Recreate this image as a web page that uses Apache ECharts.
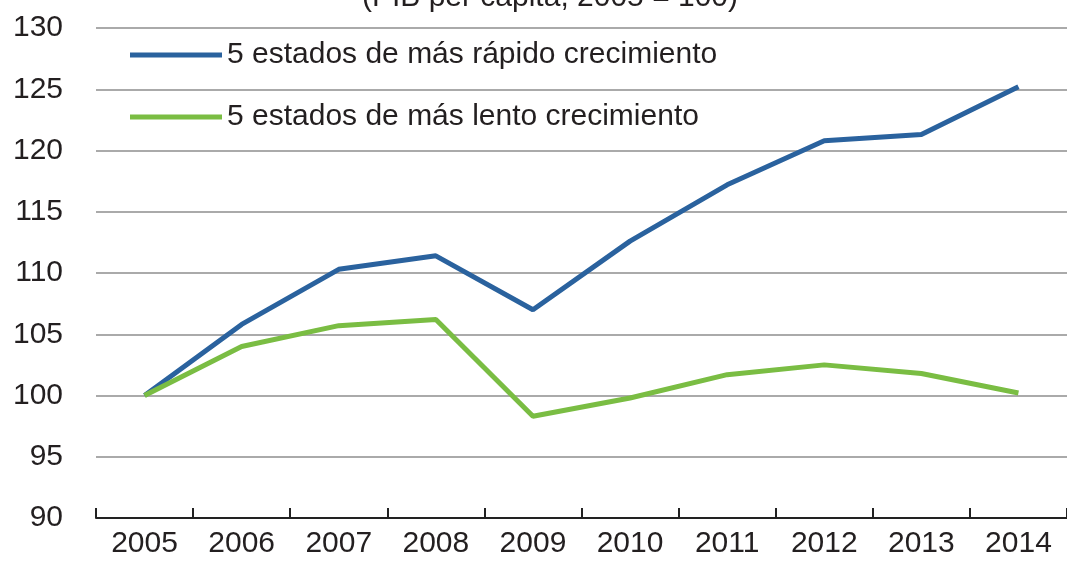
<!DOCTYPE html>
<html>
<head>
<meta charset="utf-8">
<script src="https://cdn.jsdelivr.net/npm/echarts@6/dist/echarts.min.js"></script>
<style>
html, body { margin: 0; padding: 0; background: #fff; }
#chart { width: 1067px; height: 563px; }
</style>
</head>
<body>
<div id="chart"></div>
<script>
// datos
var years = ["2005", "2006", "2007", "2008", "2009", "2010", "2011", "2012", "2013", "2014"];
var rapido = [100, 105.8, 110.3, 111.4, 107.0, 112.6, 117.2, 120.8, 121.3, 125.2];
var lento = [100, 104.0, 105.7, 106.2, 98.3, 99.8, 101.7, 102.5, 101.8, 100.2];
var nombreRapido = "5 estados de más rápido crecimiento";
var nombreLento = "5 estados de más lento crecimiento";
var titulo = "(PIB per cápita, 2005 = 100)";

var fuente = "'Liberation Sans Narrow', 'Liberation Sans', Arial, sans-serif";
var texto = "#231f20";

var myChart = echarts.init(document.getElementById('chart'));
var option = {
	animation: false,
	textStyle: { fontFamily: fuente },
	title: {
		text: titulo,
		left: 550,
		top: -17,
		padding: 0,
		textAlign: 'center',
		textStyle: { fontFamily: fuente, fontSize: 30, fontWeight: 'normal', color: texto }
	},
	legend: {
		orient: 'vertical',
		left: 130,
		top: 40,
		padding: 0,
		itemWidth: 92,
		itemHeight: 5,
		itemGap: 32,
		icon: 'rect',
		textStyle: { fontFamily: fuente, fontSize: 30, color: texto, lineHeight: 30 },
		data: [nombreRapido, nombreLento]
	},
	grid: { left: 96, top: 28, width: 978, height: 490 },
	xAxis: {
		type: 'category',
		data: years,
		boundaryGap: true,
		axisLine: { lineStyle: { color: '#222', width: 2 } },
		axisTick: { show: true, interval: 0, inside: true, length: 10, lineStyle: { color: '#222', width: 2 } },
		axisLabel: { fontFamily: fuente, fontSize: 30, color: texto, margin: 11 }
	},
	yAxis: {
		type: 'value',
		min: 90,
		max: 130,
		interval: 5,
		axisLine: { show: false },
		axisTick: { show: false },
		axisLabel: { fontFamily: fuente, fontSize: 30, color: texto, margin: 33 },
		splitLine: { lineStyle: { color: '#aaaaaa', width: 2 } }
	},
	series: [
		{
			name: nombreRapido,
			type: 'line',
			data: rapido,
			symbol: 'none',
			color: '#2a629e',
			lineStyle: { width: 5, color: '#2a629e' }
		},
		{
			name: nombreLento,
			type: 'line',
			data: lento,
			symbol: 'none',
			color: '#7abd43',
			lineStyle: { width: 5, color: '#7abd43' }
		}
	]
};
myChart.setOption(option);
</script>
</body>
</html>
